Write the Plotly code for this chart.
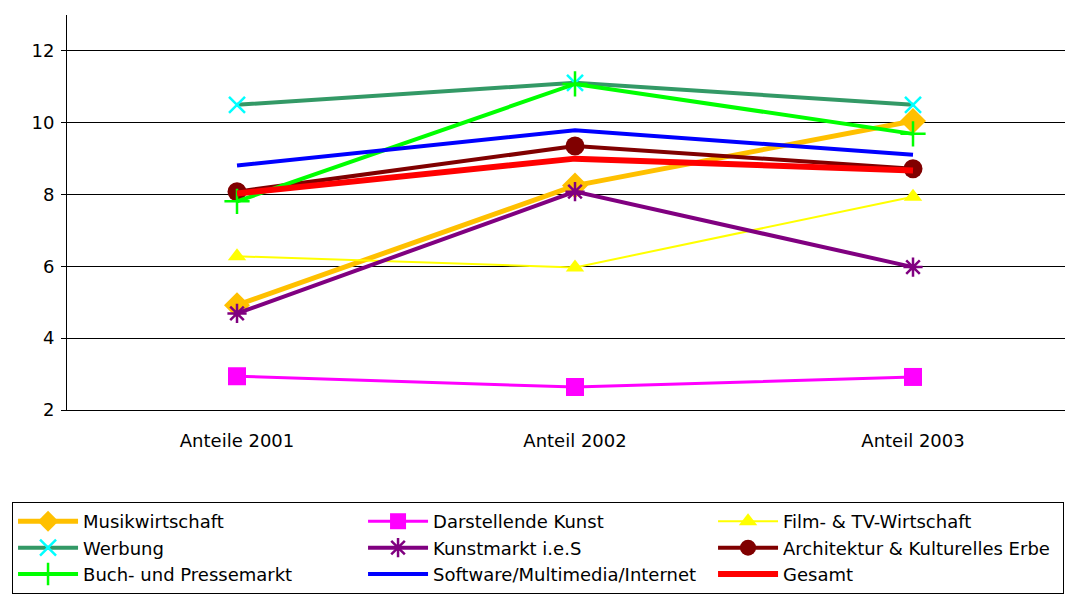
import plotly.graph_objects as go

categories = ["Anteile 2001", "Anteil 2002", "Anteil 2003"]

musikwirtschaft = [4.92, 8.25, 10.05]
darstellende_kunst = [2.94, 2.64, 2.92]
film_tv = [6.28, 5.97, 7.94]
werbung = [10.5, 11.11, 10.5]
kunstmarkt = [4.69, 8.08, 5.98]
architektur = [8.08, 9.35, 8.72]
buch_presse = [7.81, 11.08, 9.69]
software = [8.81, 9.79, 9.11]
gesamt = [8.03, 9.0, 8.67]

FONT = "DejaVu Sans, Arial, sans-serif"

series = [
    # name, values, line colour, width, symbol, marker colour, size
    ("Musikwirtschaft", musikwirtschaft, "#FFC000", 5, "diamond", "#FFC000", 20),
    ("Darstellende Kunst", darstellende_kunst, "#FF00FF", 3, "square", "#FF00FF", 18),
    ("Film- & TV-Wirtschaft", film_tv, "#FFFF00", 2, "triangle-up", "#FFFF00", 16),
    ("Werbung", werbung, "#339966", 4, "x-thin", "#00FFFF", 16),
    ("Kunstmarkt i.e.S", kunstmarkt, "#800080", 4, "asterisk", "#800080", 16),
    ("Architektur & Kulturelles Erbe", architektur, "#800000", 4, "circle", "#800000", 19),
    ("Buch- und Pressemarkt", buch_presse, "#00FF00", 4, "cross-thin", "#00FF00", 18),
    ("Software/Multimedia/Internet", software, "#0000FF", 4, None, None, 0),
    ("Gesamt", gesamt, "#FF0000", 6, None, None, 0),
]

fig = go.Figure()
for name, vals, lc, lw, sym, mc, ms in series:
    if sym is None:
        fig.add_scatter(x=categories, y=vals, name=name, mode="lines",
                        line=dict(color=lc, width=lw))
    else:
        thin = sym in ("x-thin", "cross-thin", "asterisk")
        marker = dict(symbol=sym, size=ms, color=mc,
                      line=dict(color=mc, width=2.5 if thin else 0))
        fig.add_scatter(x=categories, y=vals, name=name, mode="lines+markers",
                        line=dict(color=lc, width=lw), marker=marker)

# page body adds an 8px offset; the plot area runs past the right edge
fig.update_layout(
    width=1073, height=598,
    margin=dict(l=59, r=0, t=7, b=196, autoexpand=False),
    plot_bgcolor="white", paper_bgcolor="white",
    font=dict(family=FONT, size=17, color="black"),
    legend=dict(
        orientation="h", x=-0.0542, xanchor="left", y=-0.233, yanchor="top",
        entrywidth=275, bordercolor="black", borderwidth=1,
        font=dict(family=FONT, size=18, color="black"),
        itemwidth=60,
    ),
)
fig.update_xaxes(
    type="category", range=[-0.503, 2.497],
    showline=True, linecolor="black", linewidth=1,
    showgrid=False, ticks="", tickfont=dict(size=18),
    ticklabelstandoff=14,
)
fig.update_yaxes(
    range=[2, 13], tickvals=[2, 4, 6, 8, 10, 12],
    showline=True, linecolor="black", linewidth=1,
    showgrid=True, gridcolor="black", gridwidth=1,
    ticks="outside", ticklen=5, tickcolor="black",
    zeroline=False, tickfont=dict(size=18), ticklabelstandoff=3,
)

fig.write_html("out.html")
